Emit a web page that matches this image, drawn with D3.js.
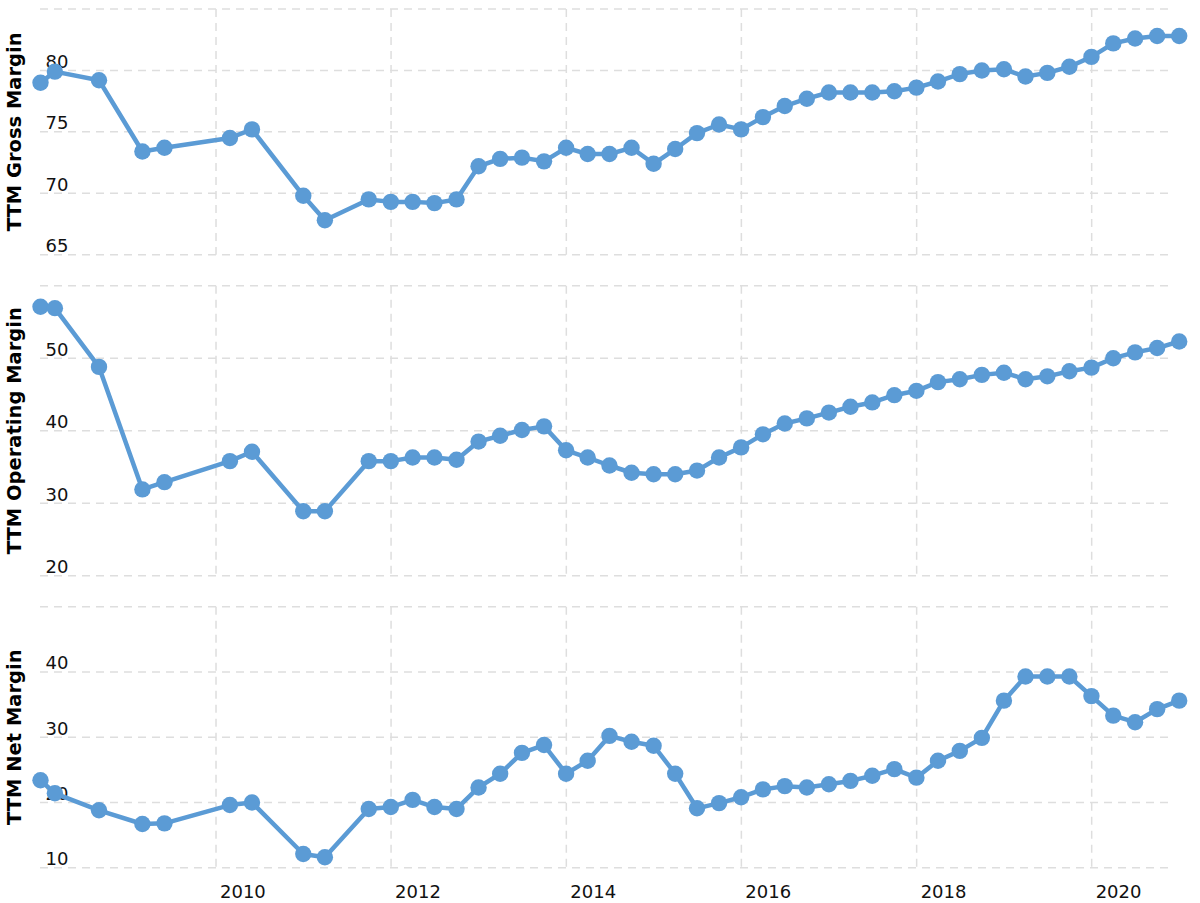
<!DOCTYPE html>
<html>
<head>
<meta charset="utf-8">
<script src="https://cdn.jsdelivr.net/npm/d3@7"></script>
<style>
  body { margin: 0; background: #fff; }
  svg { display: block; font-family: "DejaVu Sans", Verdana, sans-serif; }
  .grid line { stroke: #dedede; stroke-width: 1.5; stroke-dasharray: 8,6; }
  .tick-label { font-size: 18px; fill: #111; }
  .title { font-size: 19.5px; font-weight: bold; fill: #000; }
</style>
</head>
<body>
<svg width="1200" height="903"></svg>
<script>
// quarter end dates (TTM)
const dates = [
  "2007-12-31", "2008-02-29", "2008-08-31", "2009-02-28", "2009-05-31",
  "2010-02-28", "2010-05-31", "2010-12-31", "2011-03-31", "2011-09-30",
  "2011-12-31", "2012-03-31", "2012-06-30", "2012-09-30", "2012-12-31",
  "2013-03-31", "2013-06-30", "2013-09-30", "2013-12-31", "2014-03-31",
  "2014-06-30", "2014-09-30", "2014-12-31", "2015-03-31", "2015-06-30",
  "2015-09-30", "2015-12-31", "2016-03-31", "2016-06-30", "2016-09-30",
  "2016-12-31", "2017-03-31", "2017-06-30", "2017-09-30", "2017-12-31",
  "2018-03-31", "2018-06-30", "2018-09-30", "2018-12-31", "2019-03-31",
  "2019-06-30", "2019-09-30", "2019-12-31", "2020-03-31", "2020-06-30",
  "2020-09-30", "2020-12-31"
];

const grossMargin = [
  79.0, 79.9, 79.2, 73.4, 73.7, 74.5, 75.2, 69.8, 67.8, 69.5,
  69.3, 69.3, 69.2, 69.5, 72.2, 72.8, 72.9, 72.6, 73.7, 73.2,
  73.2, 73.7, 72.4, 73.6, 74.9, 75.6, 75.2, 76.2, 77.1, 77.7,
  78.2, 78.2, 78.2, 78.3, 78.6, 79.1, 79.7, 80.0, 80.1, 79.5,
  79.8, 80.3, 81.1, 82.2, 82.6, 82.8, 82.8
];

const operatingMargin = [
  57.1, 56.9, 48.8, 31.9, 32.9, 35.8, 37.1, 28.9, 28.9, 35.8,
  35.8, 36.3, 36.3, 36.0, 38.5, 39.3, 40.1, 40.6, 37.3, 36.3,
  35.2, 34.2, 34.0, 34.0, 34.5, 36.3, 37.7, 39.5, 41.0, 41.7,
  42.5, 43.3, 43.9, 44.9, 45.5, 46.7, 47.1, 47.7, 48.0, 47.1,
  47.5, 48.2, 48.7, 50.0, 50.8, 51.4, 52.3
];

const netMargin = [
  23.4, 21.4, 18.8, 16.7, 16.8, 19.6, 20.0, 12.1, 11.6, 19.0,
  19.3, 20.4, 19.3, 19.0, 22.3, 24.4, 27.6, 28.8, 24.4, 26.4,
  30.2, 29.3, 28.7, 24.4, 19.1, 19.9, 20.8, 22.0, 22.5, 22.3,
  22.8, 23.3, 24.1, 25.1, 23.8, 26.4, 27.9, 29.9, 35.6, 39.3,
  39.3, 39.3, 36.3, 33.3, 32.3, 34.3, 35.6
];

const yearTicks = [2010, 2012, 2014, 2016, 2018, 2020];
const grossTicks = [65, 70, 75, 80, 85];
const operatingTicks = [20, 30, 40, 50, 60];
const netTicks = [10, 20, 30, 40, 50];

const parse = d3.timeParse("%Y-%m-%d");
const color = "#5b9bd5";

const svg = d3.select("svg");

const x = d3.scaleTime()
  .domain([parse("2007-12-31"), parse("2020-12-31")])
  .range([40.5, 1179.2]);

const gridLeft = 40, gridRight = 1173;

const panels = [
  { title: "TTM Gross Margin", values: grossMargin, ticks: grossTicks, top: 9, bottom: 254.7 },
  { title: "TTM Operating Margin", values: operatingMargin, ticks: operatingTicks, top: 285.7, bottom: 575.7 },
  { title: "TTM Net Margin", values: netMargin, ticks: netTicks, top: 606.7, bottom: 867.7 }
];

panels.forEach(function(p) {
  const y = d3.scaleLinear()
    .domain(d3.extent(p.ticks))
    .range([p.bottom, p.top]);

  const grid = svg.append("g").attr("class", "grid");

  grid.selectAll(".h")
    .data(p.ticks)
    .enter()
    .append("line")
    .attr("x1", gridLeft)
    .attr("x2", gridRight)
    .attr("y1", d => y(d))
    .attr("y2", d => y(d));

  grid.selectAll(".v")
    .data(yearTicks)
    .enter()
    .append("line")
    .attr("x1", d => x(new Date(d, 0, 1)))
    .attr("x2", d => x(new Date(d, 0, 1)))
    .attr("y1", p.top)
    .attr("y2", p.bottom);

  // tick labels (top gridline is unlabeled)
  svg.append("g")
    .selectAll("text")
    .data(p.ticks.slice(0, -1))
    .enter()
    .append("text")
    .attr("class", "tick-label")
    .attr("x", 45.5)
    .attr("y", d => y(d) - 2.5)
    .text(d => d);

  svg.append("text")
    .attr("class", "title")
    .attr("text-anchor", "middle")
    .attr("transform", "translate(21," + ((p.top + p.bottom) / 2) + ") rotate(-90)")
    .text(p.title);

  const points = dates.map((d, i) => ({ date: parse(d), value: p.values[i] }));

  const line = d3.line()
    .x(d => x(d.date))
    .y(d => y(d.value));

  svg.append("path")
    .datum(points)
    .attr("fill", "none")
    .attr("stroke", color)
    .attr("stroke-width", 4.5)
    .attr("stroke-linejoin", "round")
    .attr("d", line);

  svg.append("g")
    .selectAll("circle")
    .data(points)
    .enter()
    .append("circle")
    .attr("cx", d => x(d.date))
    .attr("cy", d => y(d.value))
    .attr("r", 8.2)
    .attr("fill", color);
});

// year labels along the bottom
svg.append("g")
  .selectAll("text")
  .data(yearTicks)
  .enter()
  .append("text")
  .attr("class", "tick-label")
  .attr("x", d => x(new Date(d, 0, 1)) + 4)
  .attr("y", 898)
  .text(d => d);
</script>
</body>
</html>
